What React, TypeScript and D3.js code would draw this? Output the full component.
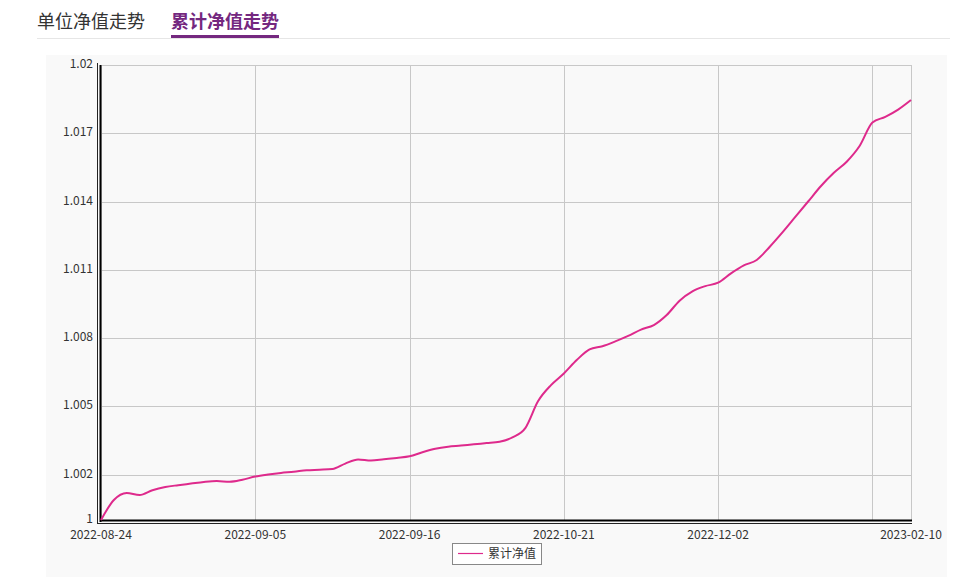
import React from "react";
import * as d3 from "d3";

// cumulative NAV, one point per sample
const navValues = [
  1.0, 1.00088, 1.00119, 1.0011, 1.00131, 1.00145, 1.00153, 1.0016, 1.00167, 1.00171,
  1.00168, 1.00177, 1.00191, 1.002, 1.00207, 1.00212, 1.00219, 1.00221, 1.00224, 1.00248,
  1.00266, 1.00261, 1.00267, 1.00273, 1.0028, 1.00298, 1.00313, 1.00322, 1.00327, 1.00333,
  1.00338, 1.00344, 1.00363, 1.00404, 1.00523, 1.00593, 1.00644, 1.00703, 1.0075, 1.00764,
  1.00785, 1.00809, 1.00837, 1.00857, 1.00901, 1.00964, 1.01005, 1.01028, 1.01043, 1.01084,
  1.01119, 1.01143, 1.012, 1.01264, 1.01332, 1.014, 1.01468, 1.01526, 1.01575, 1.01644,
  1.01747, 1.01772, 1.01804, 1.01846,
];

const xTickIndex = [0, 12, 24, 36, 48, 63];
const xTickLabels = ["2022-08-24", "2022-09-05", "2022-09-16", "2022-10-21", "2022-12-02", "2023-02-10"];
const xGridIndex = [0, 12, 24, 36, 48, 60];
const yTicks = [1, 1.002, 1.005, 1.008, 1.011, 1.014, 1.017, 1.02];
const yTickLabels = ["1", "1.002", "1.005", "1.008", "1.011", "1.014", "1.017", "1.02"];

const tabs = ["单位净值走势", "累计净值走势"];
const seriesName = "累计净值";

const W = 966;
const H = 577;
const FONT = "'Noto Sans CJK SC', 'Noto Sans', sans-serif";
const LINE = "#de2a8c";
const PURPLE = "#74287f";

const left = 101;
const right = 911;
const top = 65;
const bottom = 520;

const App: React.FC = () => {
  const x = d3.scaleLinear().domain([0, navValues.length - 1]).range([left, right]);
  const y = d3.scaleLinear().domain([1, 1.02]).range([bottom, top]);

  const line = d3
    .line<number>()
    .x((_, i) => x(i))
    .y((d) => y(d))
    .curve(d3.curveMonotoneX);

  return (
    <div style={{ position: "absolute", left: 0, top: 0 }}>
      <svg width={W} height={H} style={{ display: "block", fontFamily: FONT }}>
        <rect x={0} y={0} width={W} height={H} fill="#fff" />

        {/* tabs */}
        <text x={37} y={27.5} fontSize={18} fill="#333">{tabs[0]}</text>
        <text x={171} y={27.5} fontSize={18} fontWeight="bold" fill={PURPLE}>{tabs[1]}</text>
        <line x1={37} x2={950} y1={38.5} y2={38.5} stroke="#e6e6e6" />
        <rect x={171} y={35} width={108} height={3} fill={PURPLE} />

        {/* panel */}
        <rect x={46} y={55} width={901} height={H - 55} fill="#f9f9f9" />

        {/* grid */}
        {yTicks.map((t) => (
          <line key={"gy" + t} x1={left} x2={right} y1={Math.round(y(t)) + 0.5} y2={Math.round(y(t)) + 0.5} stroke="#c8c8c8" />
        ))}
        {xGridIndex.map((i) => (
          <line key={"gx" + i} x1={Math.round(x(i)) + 0.5} x2={Math.round(x(i)) + 0.5} y1={top} y2={bottom} stroke="#c8c8c8" />
        ))}
        <line x1={right + 0.5} x2={right + 0.5} y1={top} y2={bottom} stroke="#c8c8c8" />

        {/* axes */}
        <line x1={97.5} x2={97.5} y1={top - 2} y2={bottom + 4} stroke="#222" />
        <line x1={100.5} x2={100.5} y1={top} y2={bottom + 2} stroke="#000" strokeWidth={2} />
        <line x1={left} x2={right + 1} y1={bottom + 0.5} y2={bottom + 0.5} stroke="#000" strokeWidth={2} />
        <line x1={97} x2={right + 1} y1={523.5} y2={523.5} stroke="#222" />

        {/* y labels */}
        {yTicks.map((t, i) => (
          <text key={"ly" + t} x={93} y={y(t) - 1} dy="0.35em" textAnchor="end" fontSize={12} fill="#333">
            {yTickLabels[i]}
          </text>
        ))}

        {/* x labels */}
        {xTickIndex.map((idx, i) => (
          <text key={"lx" + idx} x={x(idx)} y={538.5} textAnchor="middle" fontSize={12} fill="#333">
            {xTickLabels[i]}
          </text>
        ))}

        {/* series */}
        <path d={line(navValues) || ""} fill="none" stroke={LINE} strokeWidth={2} />

        {/* legend */}
        <rect x={452.5} y={543.5} width={89} height={21} fill="#fff" stroke="#888" />
        <line x1={458} x2={483} y1={553.5} y2={553.5} stroke={LINE} strokeWidth={1.2} />
        <text x={488} y={558} fontSize={12} fill="#333">{seriesName}</text>
      </svg>
    </div>
  );
};

export default App;
